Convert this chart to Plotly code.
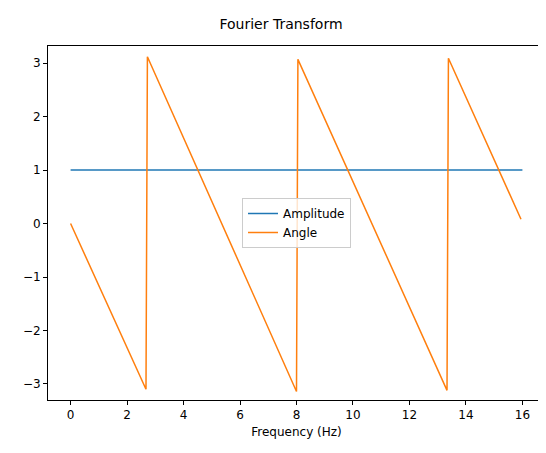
import plotly.graph_objects as go

# data
amp_x = [0, 16]
amp_y = [1, 1]
angle_x = [0, 2.67, 2.72, 8.0, 8.05, 13.33, 13.38, 15.95]
angle_y = [0, -3.10, 3.12, -3.14, 3.07, -3.12, 3.09, 0.08]

fig = go.Figure()
fig.add_trace(go.Scatter(x=amp_x, y=amp_y, mode="lines", name="Amplitude",
                         line=dict(color="#1f77b4", width=1.5)))
fig.add_trace(go.Scatter(x=angle_x, y=angle_y, mode="lines", name="Angle",
                         line=dict(color="#ff7f0e", width=1.5)))

axis = dict(showline=True, linecolor="black", linewidth=1, mirror=True,
            ticks="outside", ticklen=4, tickcolor="black", showgrid=False,
            zeroline=False, automargin=False,
            tickfont=dict(size=12, color="black"))

fig.update_layout(
    width=546, height=453,
    margin=dict(l=40, r=9, t=38, b=61),
    paper_bgcolor="white", plot_bgcolor="white",
    font=dict(family="DejaVu Sans", color="black"),
    title=dict(text="Fourier Transform", x=0.5, xanchor="center",
               y=0.965, yanchor="middle", font=dict(size=14)),
    xaxis=dict(axis, range=[-0.8, 16.8], tickvals=list(range(0, 17, 2)),
               title=dict(text="Frequency (Hz)", font=dict(size=12), standoff=6)),
    yaxis=dict(axis, range=[-3.30, 3.32], tickvals=list(range(-3, 4))),
    legend=dict(x=0.5, y=0.5, xanchor="center", yanchor="middle",
                bgcolor="rgba(255,255,255,0.8)", bordercolor="#cccccc",
                borderwidth=1, font=dict(size=12)),
)

fig.write_html("out.html")
